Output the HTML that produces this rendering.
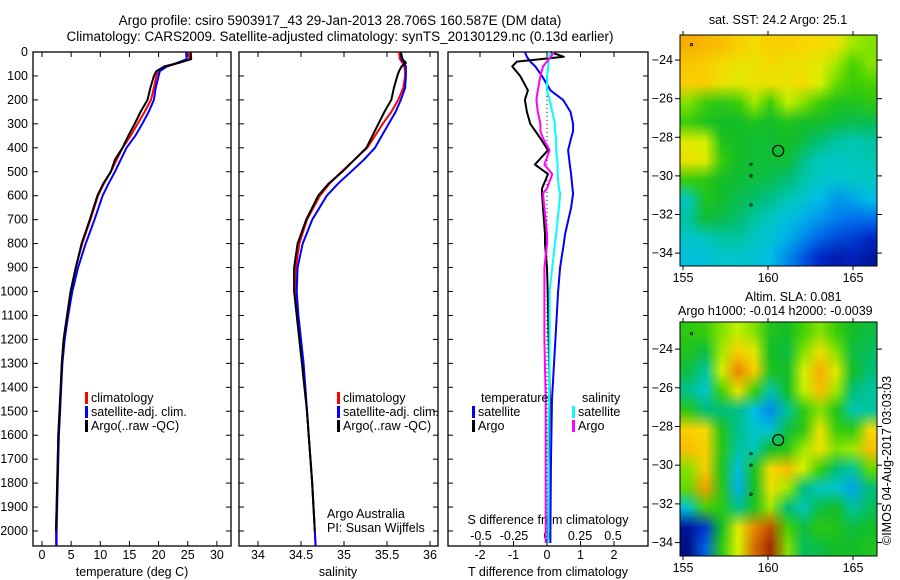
<!DOCTYPE html>
<html><head><meta charset="utf-8"><style>
html,body{margin:0;padding:0;background:#fff;width:900px;height:580px;overflow:hidden}
#wrap{position:relative;width:900px;height:580px}
canvas{position:absolute}
svg{position:absolute;left:0;top:0}
text{font-family:"Liberation Sans",sans-serif;font-size:12.5px;fill:#000}
</style></head><body>
<div id="wrap">
<canvas id="sst" width="197" height="231" style="left:680px;top:35px"></canvas>
<canvas id="sla" width="197" height="234" style="left:680px;top:322px"></canvas>
<svg id="svg" width="900" height="580">
<text x="340" y="25" text-anchor="middle" style="font-size:13.5px">Argo profile: csiro 5903917_43 29-Jan-2013 28.706S 160.587E (DM data)</text>
<text x="340" y="41" text-anchor="middle" style="font-size:13.5px">Climatology: CARS2009. Satellite-adjusted climatology: synTS_20130129.nc (0.13d earlier)</text>
<text x="778" y="24" text-anchor="middle">sat. SST: 24.2  Argo: 25.1</text>
<text x="745" y="301">Altim. SLA: 0.081</text>
<text x="678" y="315">Argo h1000: -0.014 h2000: -0.0039</text>
<text transform="translate(891,545) rotate(-90)">©IMOS 04-Aug-2017 03:03:03</text>
<text x="132" y="576" text-anchor="middle">temperature (deg C)</text>
<text x="338" y="576" text-anchor="middle">salinity</text>
<text x="548" y="576" text-anchor="middle">T difference from climatology</text>
<text x="548" y="524" text-anchor="middle">S difference from climatology</text>
<text x="327" y="518">Argo Australia</text>
<text x="327" y="532">PI: Susan Wijffels</text>
</svg>
</div>
<script>
// ---- data ----
const depthT=[0,30,45,60,80,100,150,200,250,300,350,400,450,500,550,600,700,800,900,1000,1100,1200,1300,1400,1500,1600,1800,2000,2060];
const climT=[25.3,25.2,23.5,21.5,20.0,19.6,19.2,18.7,17.6,16.4,15.2,13.8,12.8,11.8,10.6,9.6,8.3,6.9,5.8,4.9,4.3,3.7,3.4,3.2,3.0,2.8,2.6,2.4,2.4];
const satT=[24.7,24.8,23.2,21.4,20.2,20.0,19.5,19.2,18.3,17.2,16.0,14.5,13.5,12.5,11.4,10.4,9.0,7.5,6.2,5.2,4.5,3.9,3.5,3.3,3.1,2.9,2.7,2.5,2.5];
const argoT=[25.5,25.6,23.5,21.0,19.6,19.2,18.6,18.1,16.9,15.9,14.8,13.8,12.5,11.8,10.5,9.5,8.2,6.8,5.8,4.9,4.3,3.7,3.4,3.2,3.0,2.8,2.6,2.4];
const climS=[35.64,35.65,35.68,35.70,35.71,35.71,35.69,35.63,35.55,35.45,35.36,35.27,35.12,34.97,34.83,34.72,34.57,34.48,34.44,34.44,34.46,34.49,34.52,34.55,34.57,34.59,34.63,34.66,34.67];
const satS=[35.66,35.67,35.70,35.72,35.72,35.72,35.71,35.66,35.60,35.52,35.44,35.36,35.23,35.08,34.93,34.80,34.63,34.52,34.46,34.45,34.47,34.50,34.53,34.55,34.57,34.59,34.63,34.66,34.67];
const argoS=[35.66,35.68,35.72,35.67,35.64,35.62,35.58,35.55,35.47,35.40,35.33,35.26,35.12,34.98,34.82,34.70,34.56,34.46,34.42,34.42,34.45,34.48,34.51,34.54,34.57,34.59,34.63,34.66];
const dDepth=[0,20,40,60,100,160,200,250,300,330,360,410,470,510,570,590,650,760,800,900,1000,1200,1450,1700,2000,2050];
const satTd=[-0.66,-0.6,-0.5,-0.35,-0.15,0.1,0.48,0.7,0.78,0.78,0.72,0.63,0.68,0.72,0.76,0.78,0.72,0.54,0.5,0.39,0.33,0.25,0.15,0.12,0.1,0.1];
const argoTd=[0.1,0.5,-0.9,-1.04,-0.8,-0.57,-0.66,-0.6,-0.5,-0.35,-0.2,0.03,-0.36,0.03,-0.15,-0.15,-0.12,-0.06,-0.06,0,0.02,0.05,0.08,0.05,0.03,0.03];
const satSd=[0.02,0.02,0.01,0.01,0,0,0.02,0.04,0.06,0.06,0.07,0.07,0.08,0.08,0.09,0.1,0.09,0.07,0.06,0.04,0.02,0.02,0.015,0.01,0.01,0.01];
const argoSd=[0.05,0.03,0,-0.03,-0.05,-0.07,-0.08,-0.07,-0.05,-0.05,-0.03,0.02,-0.02,0.04,0.0,-0.03,-0.02,0,0,-0.02,-0.02,-0.02,-0.01,-0.01,-0.01,-0.01];
const depthTicks=[0,100,200,300,400,500,600,700,800,900,1000,1100,1200,1300,1400,1500,1600,1700,1800,1900,2000];
const tTicks=[0,5,10,15,20,25,30];
const sTicks=[34,34.5,35,35.5,36];
const tdTicks=[-2,-1,0,1,2];
const sdTicks=[-0.5,-0.25,0,0.25,0.5];
const sdTickLabels=["-0.5","-0.25","0","0.25","0.5"];
const latTicks=[-24,-26,-28,-30,-32,-34];
const lonTicks=[155,160,165];
const sstGrid=[
[.88,.87,.86,.84,.82,.84,.84,.83,.82,.80,.72,.70],
[.85,.84,.82,.80,.80,.82,.80,.80,.78,.72,.66,.70],
[.84,.84,.80,.78,.80,.80,.80,.82,.76,.68,.64,.66],
[.70,.64,.62,.64,.72,.64,.74,.70,.64,.60,.60,.62],
[.64,.60,.58,.58,.60,.58,.60,.58,.58,.56,.55,.55],
[.78,.76,.60,.58,.57,.57,.58,.56,.52,.48,.46,.48],
[.80,.78,.64,.58,.57,.57,.57,.50,.45,.43,.45,.46],
[.64,.62,.58,.57,.56,.55,.52,.47,.43,.41,.43,.43],
[.44,.60,.58,.55,.53,.50,.46,.42,.36,.30,.32,.36],
[.48,.57,.55,.53,.48,.44,.38,.34,.30,.26,.24,.24],
[.42,.44,.48,.48,.44,.40,.34,.28,.22,.18,.16,.12],
[.38,.40,.42,.42,.40,.36,.28,.20,.12,.08,.10,.06]];
const slaGrid=[
[.62,.64,.70,.74,.70,.60,.58,.66,.70,.64,.58,.56],
[.60,.56,.72,.84,.78,.58,.56,.70,.80,.70,.56,.54],
[.56,.48,.76,.92,.84,.60,.58,.76,.88,.78,.58,.52],
[.50,.42,.66,.80,.64,.46,.58,.74,.86,.72,.52,.48],
[.62,.52,.52,.50,.36,.28,.48,.62,.70,.60,.46,.48],
[.84,.82,.60,.50,.42,.40,.56,.62,.80,.64,.62,.82],
[.86,.84,.62,.48,.46,.58,.62,.72,.80,.70,.72,.86],
[.70,.84,.60,.38,.60,.82,.86,.76,.64,.52,.48,.68],
[.68,.90,.62,.34,.58,.80,.72,.52,.44,.42,.32,.52],
[.40,.66,.62,.50,.60,.72,.52,.46,.56,.58,.48,.54],
[.05,.15,.58,.78,.92,.96,.66,.56,.62,.60,.56,.58],
[.02,.22,.62,.76,.94,.99,.70,.54,.56,.58,.58,.60]];
const argoPos=[160.6,-28.7];

// ---- helpers ----
const NS="http://www.w3.org/2000/svg";
const svg=document.getElementById('svg');
function el(tag,attrs,parent){const e=document.createElementNS(NS,tag);for(const k in attrs)e.setAttribute(k,attrs[k]);(parent||svg).appendChild(e);return e;}
const Y0=52,PPD=0.2395;
const yD=d=>Y0+d*PPD;
const xT=t=>42+t*5.83;
const xS=s=>258+(s-34)*86;
const xTd=t=>547+t*33.5;
const xSd=s=>547+s*132;

function frame(x0,x1,name){
  const r=el('rect',{x:x0,y:52,width:x1-x0,height:494,fill:'none',stroke:'#000','stroke-width':1.3});
  
  
  depthTicks.forEach(d=>{
    el('line',{x1:x0,x2:x0+5,y1:yD(d),y2:yD(d),stroke:'#000'});
    el('line',{x1:x1,x2:x1-5,y1:yD(d),y2:yD(d),stroke:'#000'});
  });
}
function xticks(vals,fx,x0,x1,labels,ly){
  vals.forEach((v,i)=>{
    const x=fx(v);
    el('line',{x1:x,x2:x,y1:546,y2:541,stroke:'#000'});
    el('line',{x1:x,x2:x,y1:52,y2:57,stroke:'#000'});
    if(labels){const t=el('text',{x:x,y:ly,'text-anchor':'middle'});t.textContent=labels[i];
      
      }
  });
}
function line(ys,xs,fx,color,name,w){
  const pts=xs.map((v,i)=>fx(v).toFixed(1)+','+yD(ys[i]).toFixed(1)).join(' ');
  const p=el('polyline',{points:pts,fill:'none',stroke:color,'stroke-width':w||2,'stroke-linejoin':'round'});
  
  
}
function legend(x,y,color,label){
  el('rect',{x:x,y:y-10,width:3,height:12,fill:color});
  const t=el('text',{x:x+6,y:y});t.textContent=label;
  
  
}

// Panel 1
frame(33,231,'temperature-panel');
depthTicks.forEach(d=>{const t=el('text',{x:28,y:yD(d)+4,'text-anchor':'end'});t.textContent=d;
  
  });
xticks(tTicks,xT,33,231,tTicks.map(String),559);
line(depthT,climT,xT,'#ff0000','temp-climatology-line');
line(depthT,satT,xT,'#0000ff','temp-satellite-line');
line(depthT.slice(0,argoT.length),argoT,xT,'#000','temp-argo-line');
legend(85,402,'#ff0000','climatology');
legend(85,416,'#0000ff','satellite-adj. clim.');
legend(85,430,'#000','Argo(..raw -QC)');

// Panel 2
frame(239,438,'salinity-panel');
xticks(sTicks,xS,239,438,["34","34.5","35","35.5","36"],559);
line(depthT,climS,xS,'#ff0000','sal-climatology-line');
line(depthT,satS,xS,'#0000ff','sal-satellite-line');
line(depthT.slice(0,argoS.length),argoS,xS,'#000','sal-argo-line');
legend(337,402,'#ff0000','climatology');
legend(337,416,'#0000ff','satellite-adj. clim.');
legend(337,430,'#000','Argo(..raw -QC)');

// Panel 3
frame(448,648,'difference-panel');
xticks(tdTicks,xTd,448,648,tdTicks.map(String),559);
sdTicks.forEach((v,i)=>{const t=el('text',{x:xSd(v),y:540,'text-anchor':'middle'});t.textContent=sdTickLabels[i];
  
  });
el('line',{x1:xTd(0),x2:xTd(0),y1:yD(150),y2:546,stroke:'#000','stroke-dasharray':'1,3'});
line(dDepth,satTd,xTd,'#0000ff','tdiff-satellite-line');
line(dDepth,argoTd,xTd,'#000','tdiff-argo-line');
line(dDepth,satSd,xSd,'#00ffff','sdiff-satellite-line');
line(dDepth,argoSd,xSd,'#ff00ff','sdiff-argo-line');
{const t=el('text',{x:481,y:402});t.textContent='temperature';}
{const t=el('text',{x:582,y:402});t.textContent='salinity';}
legend(472,416,'#0000ff','satellite');
legend(472,430,'#000','Argo');
legend(572,416,'#00ffff','satellite');
legend(572,430,'#ff00ff','Argo');

// ---- maps ----
const stops=[[0,[0,10,120]],[0.12,[0,40,200]],[0.25,[0,120,240]],[0.36,[0,190,230]],[0.45,[0,200,190]],[0.52,[0,190,120]],[0.58,[20,190,40]],[0.66,[70,210,0]],[0.75,[210,245,0]],[0.83,[250,215,0]],[0.91,[245,150,0]],[1,[150,30,0]]];
function cmap(v){for(let i=1;i<stops.length;i++){if(v<=stops[i][0]){const a=stops[i-1],b=stops[i];const f=(v-a[0])/(b[0]-a[0]);return a[1].map((c,k)=>Math.round(c+(b[1][k]-c)*f));}}return stops[stops.length-1][1];}
function drawMap(id,grid){
  const cv=document.getElementById(id),ctx=cv.getContext('2d');
  const n=grid[0].length,m=grid.length;
  const off=document.createElement('canvas');off.width=n;off.height=m;
  const oc=off.getContext('2d');const img=oc.createImageData(n,m);
  grid.forEach((row,j)=>row.forEach((v,i)=>{const c=cmap(v),k=(j*n+i)*4;img.data[k]=c[0];img.data[k+1]=c[1];img.data[k+2]=c[2];img.data[k+3]=255;}));
  oc.putImageData(img,0,0);
  ctx.imageSmoothingEnabled=true;
  ctx.drawImage(off,0,0,cv.width,cv.height);
}
drawMap('sst',sstGrid);
drawMap('sla',slaGrid);

function mapAxes(top,h,latAtTop,ppLat,name){
  const lonX=l=>683+(l-155)*17;
  const latY=l=>top+(latAtTop-l)*ppLat;
  const r=el('rect',{x:680,y:top,width:197,height:h,fill:'none',stroke:'#000','stroke-width':1});
  
  
  latTicks.forEach(l=>{const y=latY(l);
    el('line',{x1:675,x2:680,y1:y,y2:y,stroke:'#000'});
    el('line',{x1:877,x2:882,y1:y,y2:y,stroke:'#000'});
    const t=el('text',{x:673,y:y+4,'text-anchor':'end'});t.textContent='\u2212'+Math.abs(l);
    
    });
  const bottom=top+h;
  lonTicks.forEach(l=>{const x=lonX(l);
    el('line',{x1:x,x2:x,y1:top-4,y2:top,stroke:'#000'});
    el('line',{x1:x,x2:x,y1:bottom,y2:bottom+4,stroke:'#000'});
    const t=el('text',{x:x,y:bottom+16,'text-anchor':'middle'});t.textContent=l;
    
    });
  const c=el('circle',{cx:lonX(argoPos[0]),cy:latY(argoPos[1]),r:5.5,fill:'none',stroke:'#000','stroke-width':1.2});
  
  
  [[155.5,-23.2],[159,-29.4],[159,-30],[159,-31.5]].forEach(p=>el('circle',{cx:lonX(p[0]),cy:latY(p[1]),r:1.2,fill:'none',stroke:'#000','stroke-width':0.8}));
}
mapAxes(35,231,-22.7,19.3,'sst-map-frame');
mapAxes(322,234,-22.6,19.35,'sla-map-frame');
</script>
</body></html>
